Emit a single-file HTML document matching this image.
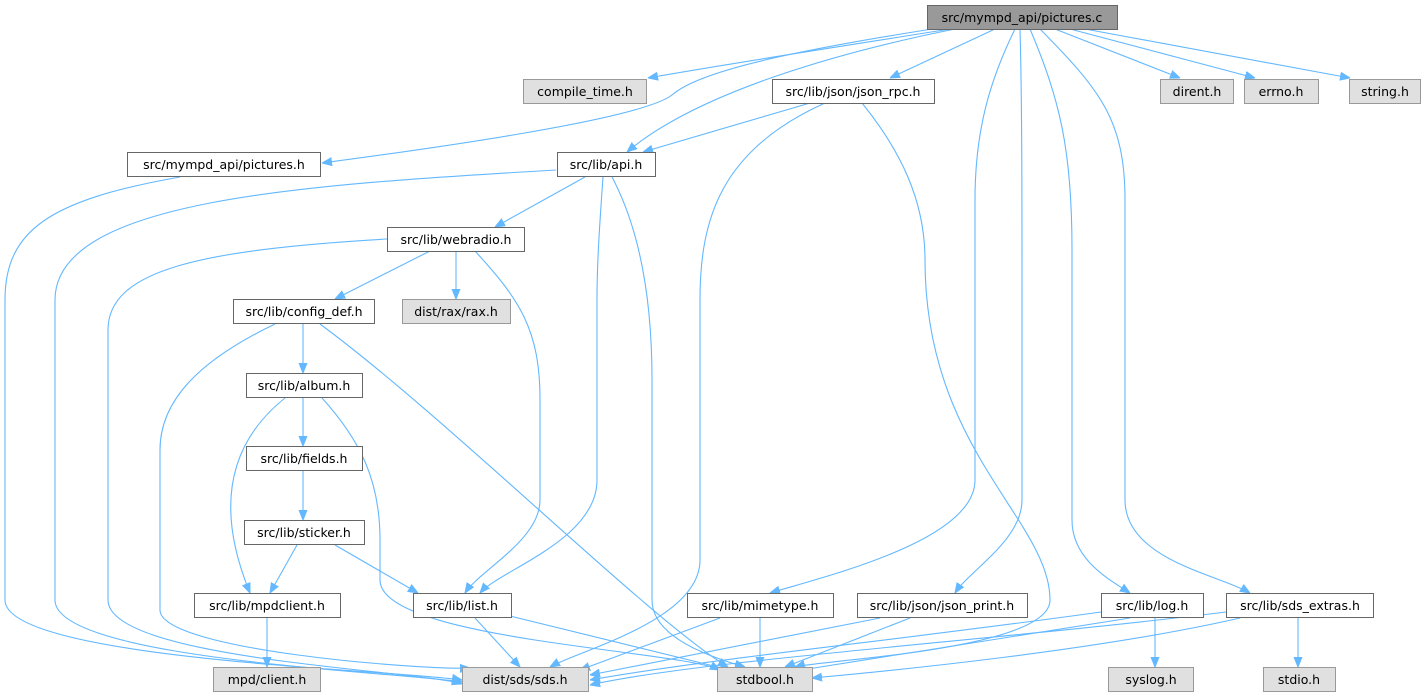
<!DOCTYPE html>
<html><head><meta charset="utf-8"><style>
html,body{margin:0;padding:0;background:#fff;}
svg{display:block;}
text{font-family:"DejaVu Sans","Liberation Sans",sans-serif;font-size:12.5px;fill:#000;text-anchor:middle;}
.e{fill:none;stroke:#63b8ff;stroke-width:1.1;marker-end:url(#a);}
.w{fill:#fff;stroke:#666;stroke-width:1;}
.g{fill:#e0e0e0;stroke:#999;stroke-width:1;}
</style></head><body>
<svg width="1426" height="696" viewBox="0 0 1426 696" xmlns="http://www.w3.org/2000/svg">
<defs><marker id="a" viewBox="0 0 10 10" refX="10" refY="5" markerWidth="10" markerHeight="10" markerUnits="userSpaceOnUse" orient="auto"><path d="M0,1 L10,5 L0,9 z" fill="#63b8ff" stroke="#63b8ff"/></marker></defs>
<!-- edges -->
<path class="e" d="M950,29 C850,45 720,65 648,78"/>
<path class="e" d="M932,29 C800,50 700,70 672,95 C640,120 420,150 322,163"/>
<path class="e" d="M955,29 C850,50 700,90 627,152"/>
<path class="e" d="M995,29 L890,78"/>
<path class="e" d="M1015,29 C990,80 975,130 975,200 L975,480 C975,540 830,575 770,593"/>
<path class="e" d="M1020,29 C1022,100 1022,200 1022,300 L1022,500 C1022,540 970,570 955,593"/>
<path class="e" d="M1030,29 C1060,100 1072,150 1072,250 L1072,520 C1072,560 1110,580 1130,593"/>
<path class="e" d="M1040,29 C1100,90 1125,120 1125,200 L1125,500 C1125,560 1220,575 1250,593"/>
<path class="e" d="M1055,29 L1180,78"/>
<path class="e" d="M1070,29 L1255,78"/>
<path class="e" d="M1085,29 L1350,78"/>
<path class="e" d="M810,103 L643,152"/>
<path class="e" d="M825,103 C720,150 700,220 700,300 L700,560 C700,620 580,650 550,667"/>
<path class="e" d="M862,103 C900,150 925,200 925,260 C925,450 1050,520 1050,600 C1050,650 820,660 795,667"/>
<path class="e" d="M180,177 C50,200 5,230 5,300 L5,600 C5,660 400,670 462,680"/>
<path class="e" d="M556,170 C300,185 55,200 55,300 L55,600 C55,660 400,672 462,682"/>
<path class="e" d="M585,177 L495,227"/>
<path class="e" d="M603,177 C600,220 597,260 597,300 L597,480 C597,540 500,570 480,593"/>
<path class="e" d="M612,177 C640,230 652,300 652,380 L652,600 C652,640 720,660 745,667"/>
<path class="e" d="M387,239 C200,250 108,270 108,330 L108,600 C108,660 420,670 462,684"/>
<path class="e" d="M430,251 L335,299"/>
<path class="e" d="M456,251 L456,299"/>
<path class="e" d="M475,251 C520,300 540,330 540,400 L540,500 C540,540 480,570 465,593"/>
<path class="e" d="M275,324 C200,360 160,400 160,450 L160,610 C160,650 420,670 470,668"/>
<path class="e" d="M303,324 L303,373"/>
<path class="e" d="M320,324 C450,420 650,620 728,667"/>
<path class="e" d="M303,398 L303,446"/>
<path class="e" d="M285,398 C220,450 220,520 250,593"/>
<path class="e" d="M322,398 C360,440 380,480 380,540 L380,580 C380,640 680,650 720,670"/>
<path class="e" d="M303,471 L303,520"/>
<path class="e" d="M297,545 L270,593"/>
<path class="e" d="M335,545 L418,593"/>
<path class="e" d="M267,618 L267,667"/>
<path class="e" d="M475,618 L520,667"/>
<path class="e" d="M510,616 L730,670"/>
<path class="e" d="M720,618 L580,670"/>
<path class="e" d="M760,618 L760,667"/>
<path class="e" d="M880,618 L590,675"/>
<path class="e" d="M910,618 L785,667"/>
<path class="e" d="M1101,612 C900,640 700,660 590,680"/>
<path class="e" d="M1130,618 L795,671"/>
<path class="e" d="M1155,618 L1155,667"/>
<path class="e" d="M1226,612 C1000,640 700,660 590,685"/>
<path class="e" d="M1240,618 C1100,650 900,670 812,678"/>
<path class="e" d="M1298,618 L1298,667"/>
<!-- nodes -->
<rect x="927.5" y="5.5" width="190" height="24" fill="#999" stroke="#666"/><text x="1022" y="22">src/mympd_api/pictures.c</text>
<rect class="g" x="523.5" y="79.5" width="123" height="24"/><text x="585" y="96">compile_time.h</text>
<rect class="w" x="772.5" y="79.5" width="162" height="24"/><text x="853" y="96">src/lib/json/json_rpc.h</text>
<rect class="g" x="1160.5" y="79.5" width="73" height="24"/><text x="1197" y="96">dirent.h</text>
<rect class="g" x="1244.5" y="79.5" width="74" height="24"/><text x="1281" y="96">errno.h</text>
<rect class="g" x="1349.5" y="79.5" width="71" height="24"/><text x="1385" y="96">string.h</text>
<rect class="w" x="127.5" y="152.5" width="193" height="24"/><text x="224" y="169">src/mympd_api/pictures.h</text>
<rect class="w" x="557.5" y="152.5" width="98" height="24"/><text x="606" y="169">src/lib/api.h</text>
<rect class="w" x="387.5" y="227.5" width="137" height="24"/><text x="456" y="244">src/lib/webradio.h</text>
<rect class="w" x="233.5" y="299.5" width="141" height="24"/><text x="304" y="316">src/lib/config_def.h</text>
<rect class="g" x="402.5" y="299.5" width="108" height="24"/><text x="456" y="316">dist/rax/rax.h</text>
<rect class="w" x="246.5" y="373.5" width="116" height="24"/><text x="304" y="390">src/lib/album.h</text>
<rect class="w" x="246.5" y="446.5" width="116" height="24"/><text x="304" y="463">src/lib/fields.h</text>
<rect class="w" x="244.5" y="520.5" width="120" height="24"/><text x="304" y="537">src/lib/sticker.h</text>
<rect class="w" x="194.5" y="593.5" width="146" height="24"/><text x="267" y="610">src/lib/mpdclient.h</text>
<rect class="w" x="413.5" y="593.5" width="98" height="24"/><text x="462" y="610">src/lib/list.h</text>
<rect class="w" x="687.5" y="593.5" width="146" height="24"/><text x="760" y="610">src/lib/mimetype.h</text>
<rect class="w" x="857.5" y="593.5" width="170" height="24"/><text x="942" y="610">src/lib/json/json_print.h</text>
<rect class="w" x="1101.5" y="593.5" width="102" height="24"/><text x="1152" y="610">src/lib/log.h</text>
<rect class="w" x="1226.5" y="593.5" width="147" height="24"/><text x="1300" y="610">src/lib/sds_extras.h</text>
<rect class="g" x="213.5" y="667.5" width="107" height="24"/><text x="267" y="684">mpd/client.h</text>
<rect class="g" x="462.5" y="667.5" width="126" height="24"/><text x="525" y="684">dist/sds/sds.h</text>
<rect class="g" x="717.5" y="667.5" width="95" height="24"/><text x="765" y="684">stdbool.h</text>
<rect class="g" x="1108.5" y="667.5" width="85" height="24"/><text x="1151" y="684">syslog.h</text>
<rect class="g" x="1263.5" y="667.5" width="72" height="24"/><text x="1299" y="684">stdio.h</text>
</svg>
</body></html>
